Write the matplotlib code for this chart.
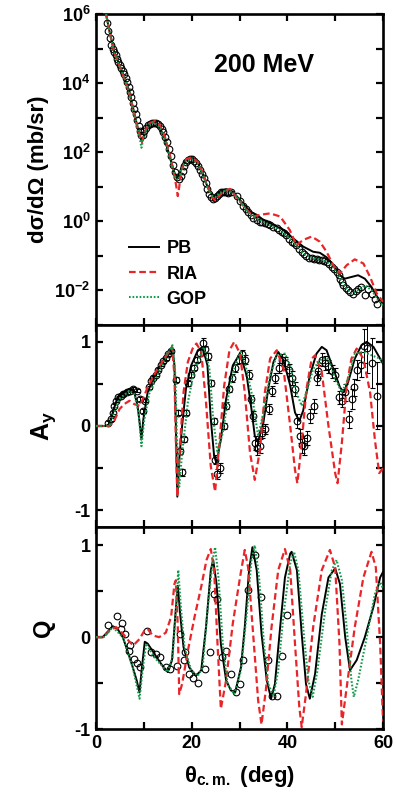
import numpy as np
import matplotlib
matplotlib.use("Agg")
import matplotlib.pyplot as plt
from matplotlib.ticker import MultipleLocator, FixedLocator, FuncFormatter, NullFormatter

plt.rcParams['font.family'] = ['Liberation Sans', 'DejaVu Sans']
plt.rcParams['font.weight'] = 'bold'
plt.rcParams['mathtext.fontset'] = 'custom'
plt.rcParams['mathtext.rm'] = 'Liberation Sans:bold'
plt.rcParams['mathtext.bf'] = 'Liberation Sans:bold'
plt.rcParams['mathtext.it'] = 'Liberation Sans:bold:italic'

RED = '#e8262a'
GREEN = '#129a4c'

# ---------------- cross section (log10 of mb/sr) ----------------
pb_cs_x = [1.8, 2.1, 2.8, 3.8, 4.9, 5.9, 7.0, 7.8, 8.7, 9.1, 9.6, 9.9, 10.3, 11.1, 12.2, 13.2, 14.3, 15.3, 16.2, 16.7,
           17.1, 17.5, 17.8, 18.8, 20.0, 21.3, 22.3, 23.3, 24.4, 24.9, 25.8, 27.2, 28.6, 30.1, 32.2, 33.6, 35.0, 37.1,
           39.2, 41.2, 43.3, 45.4, 46.8, 48.2, 49.6, 51.0, 52.0, 53.4, 54.8, 56.2, 57.6, 59.0, 60.0]
pb_cs_log = [6.3, 6.0, 5.51, 4.92, 4.53, 4.19, 3.75, 3.25, 2.72, 2.5, 2.3, 2.42, 2.62, 2.81, 2.88, 2.76, 2.42, 1.93, 1.49,
             1.3, 1.25, 1.35, 1.54, 1.78, 1.83, 1.69, 1.39, 1.0, 0.75, 0.73, 0.85, 0.93, 0.86, 0.62, 0.28, 0.19, 0.04,
             -0.11, -0.25, -0.49, -0.73, -0.88, -0.91, -1.04, -1.27, -1.56, -1.66, -1.61, -1.56, -1.66, -1.90, -2.24,
             -2.38]

ria_cs_x = [1.8, 2.1, 2.8, 3.8, 4.9, 5.9, 7.0, 7.8, 8.7, 9.1, 9.6, 10.0, 10.4, 11.2, 12.3, 13.3, 14.4, 15.4, 16.3, 16.8,
            17.1, 17.4, 17.8, 18.8, 20.0, 21.3, 22.3, 23.3, 24.3, 24.9, 25.5, 26.5, 28.0, 30.1, 31.5, 32.9, 34.3, 36.4,
            38.5, 40.5, 41.9, 43.3, 45.1, 46.8, 48.2, 49.6, 51.0, 52.4, 54.1, 55.9, 57.3, 58.7, 60.0]
ria_cs_log = [6.3, 6.0, 5.5, 4.9, 4.5, 4.15, 3.7, 3.2, 2.7, 2.5, 2.3, 2.5, 2.65, 2.84, 2.9, 2.8, 2.45, 1.95, 1.4, 1.0,
              0.73, 1.0, 1.45, 1.8, 1.85, 1.72, 1.42, 1.0, 0.7, 0.61, 0.7, 0.85, 0.94, 0.57, 0.33, 0.14, 0.19, 0.23,
              0.14, -0.25, -0.69, -0.54, -0.44, -0.59, -0.88, -1.27, -1.51, -1.27, -1.10, -1.22, -1.61, -2.09, -2.33]

gop_cs_x = [1.8, 2.1, 2.8, 3.8, 4.9, 5.9, 7.0, 7.8, 8.7, 9.1, 9.5, 9.9, 10.3, 11.1, 12.2, 13.2, 14.3, 15.3, 16.2, 16.7,
            17.1, 17.5, 17.8, 18.8, 20.0, 21.3, 22.3, 23.3, 24.4, 24.9, 25.8, 27.2, 28.6, 30.1, 32.2, 35.0, 38.5, 41.2,
            43.3, 45.4, 47.5, 49.3, 51.0, 52.4, 53.4, 54.8, 56.2, 57.6, 59.0, 60.0]
gop_cs_log = [6.3, 6.0, 5.5, 4.9, 4.5, 4.17, 3.72, 3.22, 2.7, 2.45, 2.13, 2.4, 2.6, 2.8, 2.86, 2.74, 2.4, 1.9, 1.45,
              1.25, 1.2, 1.3, 1.5, 1.75, 1.8, 1.67, 1.37, 0.98, 0.73, 0.7, 0.82, 0.9, 0.84, 0.6, 0.19, -0.01, -0.25,
              -0.59, -0.93, -1.07, -1.12, -1.27, -1.61, -1.95, -2.09, -1.99, -1.85, -1.99, -2.28, -2.43]

exp_cs_x = [2.3, 2.6, 2.9, 3.2, 3.5, 3.8, 4.1, 4.4, 4.7, 5.0, 5.3, 5.6, 5.9, 6.2, 6.5, 6.8, 7.1, 7.4, 7.7, 8.0, 8.3,
            8.6, 8.9, 9.2, 9.5, 9.8, 10.1, 10.5, 10.9, 11.3, 11.7, 12.1, 12.5, 12.9, 13.3, 13.7, 14.1, 14.5, 14.9, 15.3,
            15.7, 16.1, 16.5, 16.9, 17.3, 17.7, 18.1, 18.5, 18.9, 19.3, 19.7, 20.1, 20.5, 20.9, 21.3, 21.7, 22.1, 22.5,
            22.9, 23.3, 23.7, 24.1, 24.5, 24.9, 25.3, 25.7, 26.1, 26.5, 26.9, 27.3, 27.7, 28.3, 29.4, 30.1, 30.8, 31.3,
            31.8, 32.3, 32.9, 33.6, 34.3, 34.8, 35.3, 35.9, 36.4, 37.1, 37.8, 38.3, 38.8, 39.3, 39.8, 40.4, 40.9, 41.4,
            41.9, 42.5, 43.0, 43.5, 44.0, 44.6, 45.1, 45.6, 46.1, 46.7, 47.2, 47.7, 48.2, 48.8, 49.3, 49.8, 50.3, 50.7,
            51.0, 51.4, 51.7, 52.2, 52.7, 53.2, 53.8, 54.3, 54.8, 55.5, 56.2, 56.9, 57.6, 58.3, 58.7]
exp_cs_log = [5.75, 5.5, 5.3, 5.1, 5.0, 4.9, 4.8, 4.7, 4.6, 4.52, 4.45, 4.35, 4.25, 4.15, 4.02, 3.9, 3.75, 3.6, 3.42,
              3.25, 3.1, 2.92, 2.75, 2.6, 2.5, 2.5, 2.6, 2.7, 2.78, 2.82, 2.85, 2.86, 2.85, 2.82, 2.76, 2.68, 2.58,
              2.45, 2.3, 2.1, 1.88, 1.64, 1.42, 1.28, 1.22, 1.32, 1.45, 1.6, 1.72, 1.78, 1.8, 1.8, 1.76, 1.7, 1.6, 1.5,
              1.38, 1.25, 1.1, 0.95, 0.8, 0.7, 0.66, 0.68, 0.74, 0.8, 0.84, 0.86, 0.86, 0.85, 0.83, 0.86, 0.72, 0.58,
              0.43, 0.35, 0.28, 0.18, 0.09, 0.03, -0.01, -0.03, -0.04, -0.07, -0.11, -0.15, -0.20, -0.25, -0.30, -0.35,
              -0.40, -0.5, -0.59, -0.64, -0.69, -0.79, -0.88, -0.95, -1.01, -1.05, -1.07, -1.09, -1.10, -1.11, -1.12,
              -1.14, -1.17, -1.24, -1.32, -1.39, -1.46, -1.56, -1.66, -1.76, -1.85, -1.93, -1.99, -2.05, -2.09, -2.02,
              -1.95, -1.90, -2.14, -1.95, -2.09, -2.24, -2.38]

# ---------------- analyzing power A_y ----------------
pb_ay_x = [0.0, 2.8, 3.5, 4.5, 5.6, 7.0, 8.0, 8.7, 9.2, 9.5, 9.9, 10.8, 12.2, 13.9, 15.3, 16.0, 16.4, 16.7, 17.0, 17.4,
           18.0, 18.8, 19.9, 21.3, 22.3, 23.3, 24.0, 24.7, 25.2, 26.1, 27.2, 28.6, 30.1, 31.5, 32.5, 33.2, 33.9, 35.0,
           36.0, 37.1, 38.1, 39.2, 40.6, 41.6, 42.5, 43.3, 44.7, 46.1, 47.2, 48.2, 49.6, 51.0, 51.8, 52.7, 54.1, 55.5,
           56.6, 58.0, 59.4, 60.0]
pb_ay = [0.0, 0.0, 0.16, 0.34, 0.40, 0.44, 0.40, 0.24, 0.0, -0.16, 0.08, 0.40, 0.60, 0.76, 0.88, 0.92, 0.72, 0.0, -0.84,
         -0.40, 0.0, 0.44, 0.72, 0.90, 0.94, 0.72, 0.08, -0.36, -0.44, -0.16, 0.32, 0.72, 0.86, 0.60, 0.20, -0.12,
         -0.18, 0.04, 0.44, 0.76, 0.88, 0.78, 0.48, 0.16, 0.06, 0.18, 0.60, 0.86, 0.94, 0.90, 0.68, 0.46, 0.40, 0.52,
         0.80, 0.96, 1.0, 0.94, 0.80, 0.74]

ria_ay_x = [0.0, 2.8, 3.8, 4.9, 5.9, 7.0, 8.0, 9.1, 9.8, 10.8, 12.5, 14.3, 15.9, 16.4, 16.7, 17.0, 17.6, 18.3, 19.2,
            20.2, 21.0, 22.0, 23.0, 24.0, 24.9, 25.8, 26.8, 27.9, 28.9, 30.1, 31.1, 32.2, 33.2, 34.3, 35.3, 36.4, 37.8,
            39.2, 40.6, 41.6, 42.1, 43.0, 44.0, 45.1, 45.8, 47.2, 48.6, 50.0, 50.5, 51.4, 52.4, 53.4, 54.5, 55.9, 57.3,
            58.3, 59.2, 60.0]
ria_ay = [0.0, 0.0, 0.06, 0.20, 0.26, 0.30, 0.26, 0.24, 0.32, 0.46, 0.64, 0.80, 0.94, 0.60, -0.20, -0.84, -0.20, 0.40,
          0.76, 0.92, 0.98, 0.88, 0.28, -0.48, -0.78, -0.20, 0.48, 0.90, 1.0, 0.86, 0.40, -0.32, -0.64, -0.28, 0.40,
          0.80, 0.90, 0.68, 0.0, -0.52, -0.68, -0.20, 0.44, 0.80, 0.84, 0.64, 0.0, -0.56, -0.68, -0.20, 0.48, 0.80,
          0.92, 0.80, 0.40, -0.16, -0.56, -0.50]

gop_ay_x = [0.0, 2.8, 3.8, 4.9, 7.0, 8.0, 8.9, 9.5, 10.1, 11.1, 13.9, 16.0, 16.6, 16.9, 17.4, 18.0, 19.2, 20.6, 22.6,
            23.7, 24.5, 25.4, 26.5, 27.9, 29.3, 30.3, 31.1, 32.5, 33.9, 35.0, 36.4, 37.8, 39.5, 40.6, 41.9, 43.0, 44.0,
            45.4, 47.2, 48.6, 50.0, 51.4, 52.7, 54.1, 55.9, 57.6, 59.4, 60.0]
gop_ay = [0.0, 0.0, 0.16, 0.32, 0.42, 0.38, 0.16, -0.24, 0.08, 0.38, 0.74, 0.96, 0.60, -0.12, -0.72, -0.32, 0.28, 0.68,
          0.94, 0.68, 0.08, -0.32, -0.08, 0.44, 0.76, 0.88, 0.76, 0.40, -0.12, 0.16, 0.60, 0.84, 0.86, 0.72, 0.40,
          0.24, 0.40, 0.68, 0.80, 0.80, 0.56, 0.40, 0.56, 0.86, 0.88, 0.84, 0.80, 0.76]

exp_ay_x = [2.6, 3.1, 3.5, 3.8, 4.2, 4.7, 5.2, 5.7, 6.4, 7.1, 7.8, 8.5, 9.2, 9.8, 10.3, 11.0, 11.4, 12.0, 12.5, 13.0,
            13.6, 14.1, 14.7, 15.1, 15.6, 16.7, 17.2, 17.6, 17.9, 18.3, 18.8, 19.3, 19.8, 20.4, 21.1, 21.8, 22.3, 22.8,
            23.5, 24.1, 24.6, 24.9, 25.4, 26.0, 26.7, 27.2, 27.9, 28.4, 29.1, 29.8, 30.5, 31.2, 31.9, 32.4, 32.9, 33.3,
            33.6, 34.2, 34.7, 35.4, 36.1, 36.8, 37.5, 38.2, 38.9, 39.6, 40.3, 41.0, 41.5, 42.0, 42.6, 43.1, 43.5, 44.1,
            44.8, 45.5, 46.1, 46.5, 47.2, 47.9, 48.6, 49.3, 50.0, 50.7, 51.4, 52.1, 52.8, 53.5, 53.9, 54.6, 55.3, 56.0,
            56.7, 57.7, 58.8]
exp_ay = [0.04, 0.08, 0.16, 0.24, 0.30, 0.34, 0.36, 0.38, 0.40, 0.42, 0.44, 0.42, 0.32, 0.18, 0.30, 0.46, 0.53, 0.57,
          0.61, 0.67, 0.73, 0.77, 0.81, 0.85, 0.89, 0.55, 0.16, -0.30, -0.55, -0.16, 0.16, 0.51, 0.61, 0.69, 0.79,
          0.87, 0.99, 0.91, 0.83, 0.51, 0.06, -0.40, -0.57, -0.50, 0.0, 0.24, 0.44, 0.57, 0.69, 0.79, 0.85, 0.79,
          0.61, 0.32, 0.12, -0.20, -0.26, -0.24, -0.08, -0.04, 0.20, 0.42, 0.57, 0.69, 0.79, 0.75, 0.67, 0.57, 0.44,
          0.06, -0.12, -0.22, -0.24, -0.14, 0.12, 0.24, 0.57, 0.65, 0.79, 0.75, 0.71, 0.65, 0.61, 0.34, 0.30, 0.40,
          0.08, 0.32, 0.46, 0.67, 0.73, 0.95, 0.93, 0.75, 0.36]
exp_ay_err = [0.02, 0.02, 0.02, 0.02, 0.02, 0.02, 0.02, 0.02, 0.02, 0.02, 0.02, 0.02, 0.02, 0.02, 0.02, 0.02, 0.02,
              0.02, 0.02, 0.02, 0.02, 0.02, 0.02, 0.02, 0.02, 0.03, 0.03, 0.03, 0.04, 0.03, 0.03, 0.03, 0.03, 0.03,
              0.03, 0.04, 0.05, 0.04, 0.04, 0.04, 0.04, 0.05, 0.06, 0.06, 0.04, 0.04, 0.04, 0.05, 0.05, 0.05, 0.05,
              0.05, 0.05, 0.05, 0.06, 0.08, 0.08, 0.08, 0.06, 0.06, 0.06, 0.06, 0.06, 0.06, 0.06, 0.07, 0.07, 0.08,
              0.08, 0.08, 0.08, 0.10, 0.10, 0.08, 0.08, 0.08, 0.08, 0.08, 0.08, 0.08, 0.08, 0.08, 0.08, 0.08, 0.08,
              0.10, 0.10, 0.12, 0.10, 0.12, 0.15, 0.20, 0.30, 0.30, 0.40]

# ---------------- spin rotation Q ----------------
pb_q_x = [0.0, 1.4, 2.1, 3.5, 4.5, 5.6, 6.6, 7.7, 8.5, 9.1, 9.6, 10.2, 10.8, 12.2, 13.6, 15.0, 15.9, 16.6, 17.1, 17.6,
          18.3, 19.5, 20.9, 22.0, 23.0, 24.0, 24.5, 25.2, 26.1, 27.2, 28.2, 29.1, 30.3, 31.1, 32.0, 32.7, 33.6, 34.6,
          35.7, 36.6, 37.4, 38.5, 39.5, 40.6, 40.9, 42.0, 43.0, 43.9, 44.7, 45.8, 47.2, 48.6, 50.0, 51.0, 52.1, 53.1,
          54.5, 56.2, 58.0, 59.4, 60.0]
pb_q = [0.0, 0.0, 0.04, 0.12, 0.09, 0.0, -0.15, -0.33, -0.47, -0.60, -0.33, -0.05, -0.07, -0.18, -0.29, -0.38, -0.25,
        0.25, 0.56, 0.25, -0.11, -0.33, -0.42, -0.36, 0.11, 0.73, 0.84, 0.58, -0.07, -0.47, -0.58, -0.60, -0.33, 0.11,
        0.73, 0.98, 0.73, 0.04, -0.47, -0.67, -0.51, 0.11, 0.65, 0.91, 0.93, 0.73, 0.04, -0.51, -0.67, -0.40, 0.25,
        0.65, 0.75, 0.58, 0.0, -0.36, -0.25, 0.0, 0.33, 0.65, 0.71]

ria_q_x = [0.0, 1.6, 2.8, 4.2, 5.6, 7.0, 7.8, 9.1, 10.1, 10.8, 11.8, 13.2, 14.6, 15.7, 16.4, 16.7, 17.1, 17.4, 18.0,
           19.2, 20.6, 22.0, 23.1, 24.0, 24.7, 25.4, 26.1, 27.2, 28.6, 30.1, 31.1, 31.8, 32.9, 33.9, 34.6, 35.5, 36.7,
           38.1, 39.5, 40.6, 41.6, 42.5, 43.0, 43.9, 45.4, 47.2, 48.9, 50.0, 50.9, 51.4, 52.4, 54.1, 55.9, 57.6, 58.5,
           59.4, 60.0]
ria_q = [0.0, 0.0, 0.07, 0.11, 0.04, -0.05, -0.09, -0.02, 0.07, 0.09, 0.02, 0.0, 0.05, 0.22, 0.58, 0.62, 0.11, -0.62,
         -0.51, -0.15, 0.22, 0.55, 0.84, 0.96, 0.73, -0.07, -0.78, -0.47, 0.15, 0.65, 0.95, 0.76, 0.0, -0.69, -0.95,
         -0.58, 0.11, 0.73, 0.96, 0.73, -0.07, -0.76, -0.98, -0.62, 0.11, 0.73, 0.95, 0.76, -0.07, -0.95, -0.55, 0.11,
         0.65, 0.93, 0.76, -0.07, -0.91]

gop_q_x = [0.0, 1.6, 3.5, 5.6, 7.7, 9.1, 9.8, 10.5, 12.2, 15.0, 16.0, 16.7, 17.2, 17.8, 18.5, 19.9, 21.3, 22.3, 23.3,
           24.4, 24.9, 25.6, 26.5, 27.5, 28.9, 30.1, 30.3, 31.5, 32.5, 33.2, 34.1, 35.1, 36.0, 37.1, 38.1, 39.2, 40.6,
           41.4, 42.3, 43.5, 44.4, 45.3, 46.3, 47.9, 49.3, 50.3, 51.4, 52.4, 53.4, 53.9, 54.8, 56.6, 58.3, 59.4, 60.0]
gop_q = [0.0, 0.0, 0.11, 0.0, -0.33, -0.67, -0.33, -0.07, -0.22, -0.38, -0.22, 0.29, 0.73, 0.29, -0.11, -0.36, -0.42,
         -0.33, 0.29, 0.84, 0.98, 0.65, -0.07, -0.51, -0.62, -0.40, -0.36, 0.25, 0.84, 1.0, 0.65, -0.07, -0.51, -0.64,
         -0.36, 0.25, 0.80, 0.93, 0.73, 0.0, -0.47, -0.65, -0.36, 0.29, 0.73, 0.84, 0.62, 0.11, -0.47, -0.65, -0.47,
         0.0, 0.47, 0.60, 0.53]

exp_q_x = [2.6, 4.3, 5.4, 5.2, 6.1, 7.2, 6.8, 8.0, 8.5, 9.1, 10.7, 11.5, 12.5, 13.4, 14.6, 15.5, 16.9, 17.6, 18.3, 18.7,
           19.4, 20.3, 21.3, 22.8, 23.9, 24.7, 25.4, 26.3, 27.2, 28.2, 29.3, 30.1, 30.8, 31.8, 33.2, 34.5, 35.9, 36.7,
           37.8, 38.9, 39.9]
exp_q = [0.13, 0.23, 0.15, 0.09, 0.03, -0.08, -0.15, -0.24, -0.28, -0.33, 0.07, -0.16, -0.18, -0.22, -0.33, -0.35,
         -0.31, 0.03, -0.25, -0.16, -0.40, -0.44, -0.50, -0.35, -0.16, 0.47, 0.42, -0.22, -0.15, -0.40, -0.60, -0.51,
         -0.25, 0.51, 0.89, 0.44, -0.25, -0.64, -0.64, -0.20, 0.24]

fig = plt.figure(figsize=(3.96, 8.10), dpi=100)
L, W = 96 / 396, 287 / 396
ax1 = fig.add_axes([L, (810 - 325) / 810, W, 311 / 810])
ax2 = fig.add_axes([L, (810 - 527) / 810, W, 202 / 810])
ax3 = fig.add_axes([L, (810 - 729) / 810, W, 202 / 810])

line_kw = dict(pb=dict(color='black', lw=1.4, ls='-'),
               ria=dict(color=RED, lw=1.6, ls=(0, (3.0, 1.6))),
               gop=dict(color=GREEN, lw=1.5, ls=(0, (0.8, 0.9))))
mk = dict(marker='o', ms=4.8, mfc='none', mec='black', mew=0.8, ls='none')

# top panel
ax1.plot(exp_cs_x, 10 ** np.array(exp_cs_log), **mk, zorder=2)
ax1.plot(pb_cs_x, 10 ** np.array(pb_cs_log), label='PB', zorder=3, **line_kw['pb'])
ax1.plot(ria_cs_x, 10 ** np.array(ria_cs_log), label='RIA', zorder=3, **line_kw['ria'])
ax1.plot(gop_cs_x, 10 ** np.array(gop_cs_log), label='GOP', zorder=4, **line_kw['gop'])
ax1.set_yscale('log')
ax1.set_ylim(1e-3, 1e6)
ax1.yaxis.set_major_locator(FixedLocator([1e-2, 1e0, 1e2, 1e4, 1e6]))
ax1.yaxis.set_minor_locator(FixedLocator([1e-3, 1e-1, 1e1, 1e3, 1e5]))
ax1.yaxis.set_major_formatter(FuncFormatter(lambda v, p: r'$\mathbf{10^{%d}}$' % round(np.log10(v))))
ax1.yaxis.set_minor_formatter(NullFormatter())
ax1.set_ylabel('d\u03c3/d\u03a9 (mb/sr)', fontsize=16, fontweight='bold', labelpad=4)
ax1.text(0.585, 0.835, '200 MeV', transform=ax1.transAxes, ha='center', va='center', fontsize=18, fontweight='bold')
leg = ax1.legend(loc='lower left', bbox_to_anchor=(0.07, 0.015), frameon=False, fontsize=13,
                 handlelength=1.7, handletextpad=0.4, labelspacing=0.45, borderpad=0.2)
for t in leg.get_texts():
    t.set_fontweight('bold')

# middle panel
ax2.errorbar(exp_ay_x, exp_ay, yerr=exp_ay_err, fmt='o', ms=4.8, mfc='none', mec='black', mew=0.8,
             ecolor='black', elinewidth=0.7, capsize=1.8, capthick=0.7, zorder=2)
ax2.plot(pb_ay_x, pb_ay, zorder=3, **line_kw['pb'])
ax2.plot(ria_ay_x, ria_ay, zorder=3, **line_kw['ria'])
ax2.plot(gop_ay_x, gop_ay, zorder=4, **line_kw['gop'])
ax2.set_ylim(-1.2, 1.2)
ax2.set_ylabel(r'A$_\mathbf{y}$', fontsize=18, fontweight='bold', labelpad=12)

# bottom panel
ax3.plot(exp_q_x, exp_q, **mk, zorder=2)
ax3.plot(pb_q_x, pb_q, zorder=3, **line_kw['pb'])
ax3.plot(ria_q_x, ria_q, zorder=3, **line_kw['ria'])
ax3.plot(gop_q_x, gop_q, zorder=4, **line_kw['gop'])
ax3.set_ylim(-1.0, 1.2)
ax3.set_ylabel('Q', fontsize=17, fontweight='bold', labelpad=14)
ax3.set_xlabel('\u03b8$_{\\mathbf{c.m.}}$ (deg)', fontsize=16, fontweight='bold', labelpad=9)

for ax in (ax2, ax3):
    ax.yaxis.set_major_locator(FixedLocator([-1, 0, 1]))
    ax.yaxis.set_minor_locator(FixedLocator([-0.5, 0.5]))
    ax.yaxis.set_major_formatter(FuncFormatter(lambda v, p: '%d' % v))

for ax in (ax1, ax2, ax3):
    ax.set_xlim(0, 60)
    ax.xaxis.set_major_locator(MultipleLocator(20))
    ax.xaxis.set_minor_locator(MultipleLocator(10))
    ax.tick_params(which='both', direction='in', top=True, right=True, length=5, width=1.6, labelsize=13, pad=4)
    for s in ax.spines.values():
        s.set_linewidth(1.9)
    for lbl in ax.get_xticklabels() + ax.get_yticklabels():
        lbl.set_fontweight('bold')
for ax in (ax1, ax2):
    ax.tick_params(labelbottom=False)

fig.savefig('out.png', dpi=100)
